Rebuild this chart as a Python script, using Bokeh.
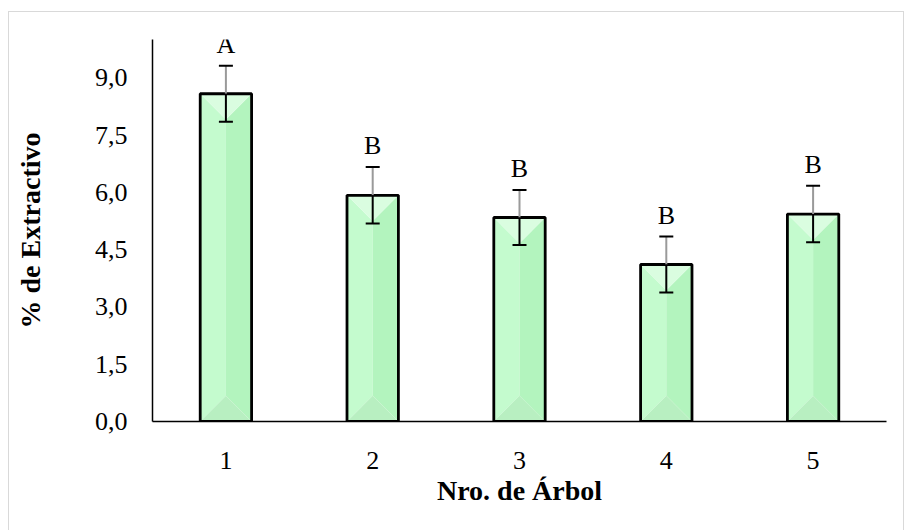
from bokeh.plotting import figure
from bokeh.models import Range1d, FixedTicker, CustomJSTickFormatter, ColumnDataSource
from bokeh.core.properties import value
from bokeh.embed import file_html
from bokeh.resources import INLINE

# ---- data ----
trees = [1, 2, 3, 4, 5]
extract = [8.58, 5.92, 5.34, 4.11, 5.43]
err = [0.73, 0.74, 0.72, 0.73, 0.74]
groups = ["A", "B", "B", "B", "B"]
y_ticks = [0.0, 1.5, 3.0, 4.5, 6.0, 7.5, 9.0]

# ---- layout constants ----
W, H = 896, 519
ML, MR, MT, MB = 143, 19, 27, 110
XMIN, XMAX = 0.5, 5.5
YMIN, YMAX = 0.0, 10.0
BAR_W = 0.35
FONT = "Liberation Serif"

frame_w = W - ML - MR
frame_h = H - MT - MB
px_x = frame_w / (XMAX - XMIN)
px_y = frame_h / (YMAX - YMIN)
bevel = (BAR_W * px_x / 2) / px_y  # bevel depth in data units (square 45° bevel)

p = figure(width=W, height=H, output_backend="svg", toolbar_location=None,
           x_range=Range1d(XMIN, XMAX), y_range=Range1d(YMIN, YMAX),
           min_border_left=ML, min_border_right=MR, min_border_top=MT, min_border_bottom=MB)
p.styles = {"margin-left": "8px", "margin-top": "11px",
            "border-top": "1px solid #d9d9d9", "border-left": "1px solid #d9d9d9",
            "border-right": "1px solid #d9d9d9"}
p.outline_line_color = None
p.xgrid.visible = False
p.ygrid.visible = False
p.background_fill_color = "white"
p.border_fill_color = "white"

# ---- bevelled bars ----
left_x, right_x, top_x, bot_x = [], [], [], []
left_y, right_y, top_y, bot_y = [], [], [], []
for x, v in zip(trees, extract):
    L, R, C = x - BAR_W / 2, x + BAR_W / 2, x
    b = min(bevel, v / 2)
    left_x.append([L, C, C, L]); left_y.append([0, b, v - b, v])
    right_x.append([R, C, C, R]); right_y.append([0, b, v - b, v])
    top_x.append([L, R, C]); top_y.append([v, v, v - b])
    bot_x.append([L, R, C]); bot_y.append([0, 0, b])

p.patches(left_x, left_y, fill_color="#c4fbce", line_color=None)
p.patches(right_x, right_y, fill_color="#b3f4be", line_color=None)
p.patches(bot_x, bot_y, fill_color="#b8efc1", line_color=None)
p.patches(top_x, top_y, fill_color="#dafde0", line_color=None)
p.vbar(x=trees, top=extract, width=BAR_W, bottom=0, fill_color=None,
       line_color="black", line_width=2.8)

# ---- error bars ----
upper = [v + e for v, e in zip(extract, err)]
lower = [v - e for v, e in zip(extract, err)]
p.segment(x0=trees, y0=extract, x1=trees, y1=upper, line_color="#9a9a9a", line_width=2)
p.segment(x0=trees, y0=lower, x1=trees, y1=extract, line_color="black", line_width=2)
p.dash(x=trees, y=upper, size=14, line_color="black", line_width=2)
p.dash(x=trees, y=lower, size=14, line_color="black", line_width=2)

# ---- group letters ----
src = ColumnDataSource(dict(x=trees, y=upper, t=groups))
p.text(x="x", y="y", text="t", source=src, text_align="center", text_baseline="bottom",
       y_offset=-7, text_font=value(FONT), text_font_size="26px", text_color="black")

# ---- axes ----
fmt = CustomJSTickFormatter(code="return tick.toFixed(1).replace('.', ',');")
p.yaxis.ticker = FixedTicker(ticks=y_ticks)
p.yaxis.formatter = fmt
p.xaxis.ticker = FixedTicker(ticks=trees)
for ax in (p.xaxis[0], p.yaxis[0]):
    ax.axis_line_color = "black"
    ax.axis_line_width = 1.5
    ax.major_tick_line_color = None
    ax.minor_tick_line_color = None
    ax.major_tick_out = 0
    ax.major_tick_in = 0
    ax.major_label_text_font = FONT
    ax.major_label_text_font_size = "26px"
    ax.major_label_text_color = "black"
    ax.axis_label_text_font = FONT
    ax.axis_label_text_font_size = "28px"
    ax.axis_label_text_font_style = "bold"
    ax.axis_label_text_color = "black"

p.xaxis.axis_label = "Nro. de Árbol"
p.yaxis.axis_label = "% de Extractivo"
p.yaxis.major_label_standoff = 25
p.xaxis.major_label_standoff = 30
p.xaxis.axis_label_standoff = 3
p.yaxis.axis_label_standoff = 46

open("out.html", "w").write(file_html(p, INLINE))
